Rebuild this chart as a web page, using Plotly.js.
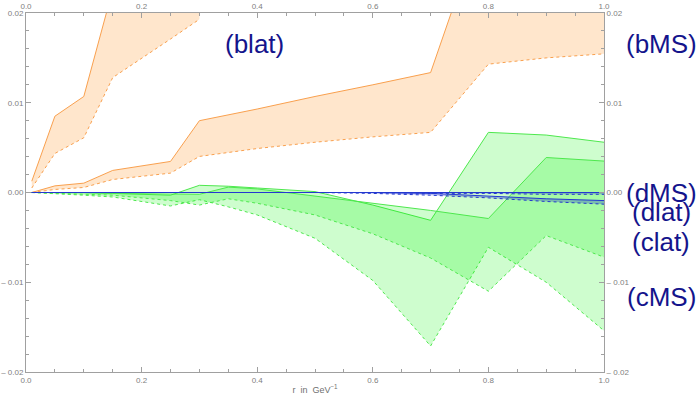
<!DOCTYPE html>
<html><head><meta charset="utf-8">
<script src="https://cdn.plot.ly/plotly-3.0.1.min.js"></script>
<style>body{margin:0;padding:0;background:#fff}#c{width:697px;height:395px}</style>
</head><body><div id="c"></div>
<script>
// ---- data ----
const rBlat = [0.01, 0.05, 0.1, 0.15, 0.25, 0.3];
const blatUpper = [0.00126, 0.0085, 0.0107, 0.0226, 0.030, 0.035];
const blatLower = [0.0005, 0.00435, 0.0061, 0.0128, 0.0171, 0.0193];

const rB = [0.01, 0.05, 0.1, 0.15, 0.25, 0.3, 0.4, 0.5, 0.6, 0.7, 0.8, 0.9, 1.0];
const bmsUpper = [0, 0.00074, 0.00104, 0.00246, 0.00346, 0.0080, 0.0093, 0.0107, 0.0120, 0.01336, 0.032, 0.034, 0.036];
const bmsLower = [0, 0.00034, 0.00056, 0.00145, 0.00216, 0.00402, 0.0049, 0.0056, 0.0062, 0.0067, 0.0143, 0.0150, 0.01545];

const rC = [0.01, 0.05, 0.1, 0.15, 0.25, 0.3, 0.35, 0.4, 0.5, 0.6, 0.7, 0.8, 0.9, 1.0];
const cmsUpper = [0, 0, 0, -0.0001, -0.0003, 0.0008, 0.0007, 0.0005, 0.0001, -0.0014, -0.0031, 0.0067, 0.0064, 0.0056];
const cmsLower = [0, -0.0001, -0.0003, -0.0005, -0.0015, -0.0008, -0.0016, -0.0025, -0.0051, -0.0098, -0.0171, -0.0061, -0.0100, -0.0154];
const clatUpper = [0, 0, 0, -0.0001, -0.0002, -0.0002, 0.0006, 0.0004, -0.0004, -0.0012, -0.0020, -0.0029, 0.0039, 0.0035];
const clatLower = [0, -0.0001, -0.0002, -0.0003, -0.0009, -0.0014, -0.0007, -0.0012, -0.0025, -0.0046, -0.0073, -0.0110, -0.0048, -0.0072];

const rD = [0.01, 0.1, 0.2, 0.3, 0.4, 0.5, 0.6, 0.7, 0.8, 0.9, 1.0];
const dmsUpper = [0, 0, 0, 0, 0, 0, 0, 0, 0, 0, 0];
const dmsLower = [0, 0, 0, 0, 0, 0, 0, -0.0001, -0.0001, -0.0002, -0.0002];
const dlatUpper = [0, 0, 0, 0, 0, 0, 0, -0.0001, -0.0004, -0.0007, -0.0009];
const dlatLower = [0, 0, 0, 0, 0, 0, -0.0001, -0.0003, -0.0006, -0.0010, -0.0013];

const xTicks = [0, 0.2, 0.4, 0.6, 0.8, 1.0];
const yTickVals = [0.02, 0.01, 0, -0.01, -0.02];
const yTickText = ['0.02', '0.01', '0.00', '\u2013 0.01', '\u2013 0.02'];

const labels = [
  {text: '(blat)', x: 0.396, y: 0.0165, ref: 'x'},
  {text: '(bMS)', x: 1.099, y: 0.0165, ref: 'paper'},
  {text: '(dMS)', x: 1.099, y: -0.0001, ref: 'paper'},
  {text: '(dlat)', x: 1.099, y: -0.0022, ref: 'paper'},
  {text: '(clat)', x: 1.099, y: -0.0055, ref: 'paper'},
  {text: '(cMS)', x: 1.099, y: -0.0116, ref: 'paper'}
];

// ---- styles ----
const orangeLine = '#f9a04e', orangeFill = 'rgba(255,128,0,0.2)';
const greenLine = '#4ee84e', greenFill = 'rgba(10,245,10,0.2)';
const blueLine = '#2438d0', blueFill = 'rgba(20,40,200,0.3)';

function band(x, lo, hi, line, fill) {
  return [
    {x: x, y: lo, type: 'scatter', mode: 'lines', line: {color: line, width: 1, dash: 'dot'}, hoverinfo: 'skip', showlegend: false},
    {x: x, y: hi, type: 'scatter', mode: 'lines', fill: 'tonexty', fillcolor: fill, line: {color: line, width: 1}, hoverinfo: 'skip', showlegend: false}
  ];
}

const traces = [].concat(
  band(rBlat, blatLower, blatUpper, orangeLine, orangeFill),
  band(rB, bmsLower, bmsUpper, orangeLine, orangeFill),
  band(rC, cmsLower, cmsUpper, greenLine, greenFill),
  band(rC, clatLower, clatUpper, greenLine, greenFill),
  band(rD, dmsLower, dmsUpper, blueLine, blueFill),
  band(rD, dlatLower, dlatUpper, blueLine, blueFill)
);
// dummy trace to activate top/right axes
traces.push({x: [0], y: [0], xaxis: 'x2', yaxis: 'y2', mode: 'markers', marker: {opacity: 0}, hoverinfo: 'skip', showlegend: false});

const axCommon = {
  showgrid: false, zeroline: false, showline: true, linecolor: '#a0a0a0', linewidth: 1,
  ticks: 'inside', ticklen: 5, tickcolor: '#a0a0a0', tickwidth: 1,
  tickfont: {family: 'Liberation Sans, Arial, sans-serif', size: 8, color: '#808080'}
};

const layout = {
  width: 697, height: 395,
  margin: {l: 26, r: 93, t: 13, b: 23},
  paper_bgcolor: '#fff', plot_bgcolor: '#fff',
  showlegend: false,
  xaxis: Object.assign({}, axCommon, {
    range: [0, 1], tickvals: xTicks, tickformat: '.1f',
    minor: {ticks: 'inside', ticklen: 3, dtick: 0.05, tickcolor: '#a0a0a0'},
    title: {text: 'r  in  GeV<sup>\u22121</sup>', font: {family: 'Liberation Sans, Arial, sans-serif', size: 9, color: '#707070'}, standoff: 4}
  }),
  xaxis2: Object.assign({}, axCommon, {
    range: [0, 1], tickvals: xTicks, tickformat: '.1f', overlaying: 'x', side: 'top',
    minor: {ticks: 'inside', ticklen: 3, dtick: 0.05, tickcolor: '#a0a0a0'}
  }),
  yaxis: Object.assign({}, axCommon, {
    range: [-0.02, 0.02], tickvals: yTickVals, ticktext: yTickText,
    minor: {ticks: 'inside', ticklen: 3, dtick: 0.002, tickcolor: '#a0a0a0'}
  }),
  yaxis2: Object.assign({}, axCommon, {
    range: [-0.02, 0.02], tickvals: yTickVals, ticktext: yTickText, overlaying: 'y', side: 'right',
    minor: {ticks: 'inside', ticklen: 3, dtick: 0.002, tickcolor: '#a0a0a0'}
  }),
  annotations: labels.map(l => ({
    text: l.text, x: l.x, y: l.y, xref: l.ref, yref: 'y', showarrow: false,
    xanchor: 'center', yanchor: 'middle',
    font: {family: 'Liberation Sans, Arial, sans-serif', size: 26, color: '#14148c'}
  }))
};

Plotly.newPlot('c', traces, layout, {staticPlot: true, displayModeBar: false});
</script>
</body></html>
